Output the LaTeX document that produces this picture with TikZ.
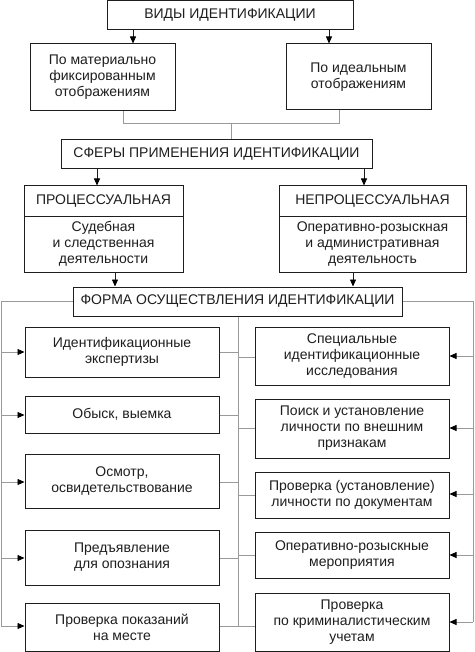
\documentclass[tikz,border=0pt]{standalone}
\usepackage{fontspec}
\setmainfont{Liberation Sans}
\usetikzlibrary{arrows.meta}
\definecolor{ink}{HTML}{1E1E1E}
\definecolor{wire}{HTML}{9A9A9A}
\tikzset{
  box/.style={draw=ink, line width=1pt, fill=white, text=ink, align=center,
    inner sep=2pt, font=\fontsize{14}{16}\selectfont},
  arr/.style={draw=ink, line width=0.8pt, -{Triangle[length=7pt,width=6pt,color=black]}},
  garr/.style={draw=wire, line width=0.8pt, -{Triangle[length=7pt,width=6pt,color=black]}},
  gline/.style={draw=wire, line width=0.9pt},
}
\begin{document}
\begin{tikzpicture}[x=1pt,y=-1pt]
\useasboundingbox (0,0) rectangle (474,652);
% coordinates for x positions
\foreach \n/\v in {a/133,b/329,c/123,d/339,e/231,f/97,g/364,h/115,i/353,l/1,r/473,m/238}{
  \coordinate (x\n) at (\v,0);
}
% level 1
\node[box, minimum width=246, minimum height=29] (top) at (230,15.5) {ВИДЫ ИДЕНТИФИКАЦИИ};
\node[box, minimum width=145, minimum height=67] (mat) at (102.5,77.5) {По материально\\фиксированным\\отображениям};
\node[box, minimum width=145, minimum height=66] (ideal) at (358.5,77) {По идеальным\\отображениям};
\node[box, minimum width=311, minimum height=29] (sfery) at (216.5,154.5) {СФЕРЫ ПРИМЕНЕНИЯ ИДЕНТИФИКАЦИИ};
% spheres
\node[box, minimum width=159, minimum height=30] (proch) at (103.5,201) {ПРОЦЕССУАЛЬНАЯ};
\node[box, minimum width=159, minimum height=56] (procb) at (103.5,244) {Судебная\\и следственная\\деятельности};
\node[box, minimum width=187, minimum height=30] (neproch) at (372.5,201) {НЕПРОЦЕССУАЛЬНАЯ};
\node[box, minimum width=187, minimum height=56] (neprocb) at (372.5,244) {Оперативно-розыскная\\и административная\\деятельность};
\node[box, minimum width=329, minimum height=29] (forma) at (237.5,301.5) {ФОРМА ОСУЩЕСТВЛЕНИЯ ИДЕНТИФИКАЦИИ};
% left column
\node[box, minimum width=194, minimum height=50] (L1) at (122,352) {Идентификационные\\экспертизы};
\node[box, minimum width=194, minimum height=37] (L2) at (122,414.5) {Обыск, выемка};
\node[box, minimum width=194, minimum height=54] (L3) at (122,481) {Осмотр,\\освидетельствование};
\node[box, minimum width=194, minimum height=55] (L4) at (122,557.5) {Предъявление\\для опознания};
\node[box, minimum width=194, minimum height=48] (L5) at (122,627) {Проверка показаний\\на месте};
% right column
\node[box, minimum width=194, minimum height=58] (R1) at (352,356) {Специальные\\идентификационные\\исследования};
\node[box, minimum width=194, minimum height=59] (R2) at (352,428.5) {Поиск и установление\\личности по внешним\\признакам};
\node[box, minimum width=194, minimum height=46] (R3) at (352,495) {Проверка (установление)\\личности по документам};
\node[box, minimum width=194, minimum height=46] (R4) at (352,555) {Оперативно-розыскные\\мероприятия};
\node[box, minimum width=194, minimum height=58] (R5) at (352,622) {Проверка\\по криминалистическим\\учетам};
% arrows top
\draw[arr] (xa |- top.south) -- (xa |- mat.north);
\draw[arr] (xb |- top.south) -- (xb |- ideal.north);
% gray join
\coordinate (j1) at (231,123);
\draw[gline] (xc |- mat.south) -- (xc |- j1) -- (xd |- j1) -- (xd |- ideal.south);
\draw[gline] (j1) -- (xe |- sfery.north);
% spheres arrows
\draw[arr] (xf |- sfery.south) -- (xf |- proch.north);
\draw[arr] (xg |- sfery.south) -- (xg |- neproch.north);
\draw[arr] (xh |- procb.south) -- (xh |- forma.north);
\draw[arr] (xi |- neprocb.south) -- (xi |- forma.north);
% side rails
\coordinate (lb) at (1,626);
\coordinate (rb) at (473,622);
\draw[gline] (forma.west) -- (xl |- forma.west) -- (lb);
\draw[gline] (forma.east) -- (xr |- forma.east) -- (rb);
\draw[gline] (forma.south -| xm) -- (xm |- L5.east);
% left arrows and links
\foreach \b/\y in {L1/352,L2/415,L3/482,L4/558,L5/626}{
  \coordinate (t\b) at (0,\y);
  \draw[garr] (xl |- t\b) -- (\b.west |- t\b);
  \draw[gline] (\b.east |- t\b) -- (xm |- t\b);
}
\foreach \b/\y in {R1/356,R2/428,R3/494,R4/555,R5/622}{
  \coordinate (t\b) at (0,\y);
  \draw[garr] (xr |- t\b) -- (\b.east |- t\b);
}
\foreach \b/\y in {R1/357,R2/428,R3/495,R4/555,R5/626}{
  \coordinate (u\b) at (0,\y);
  \draw[gline] (xm |- u\b) -- (\b.west |- u\b);
}
\end{tikzpicture}
\end{document}
